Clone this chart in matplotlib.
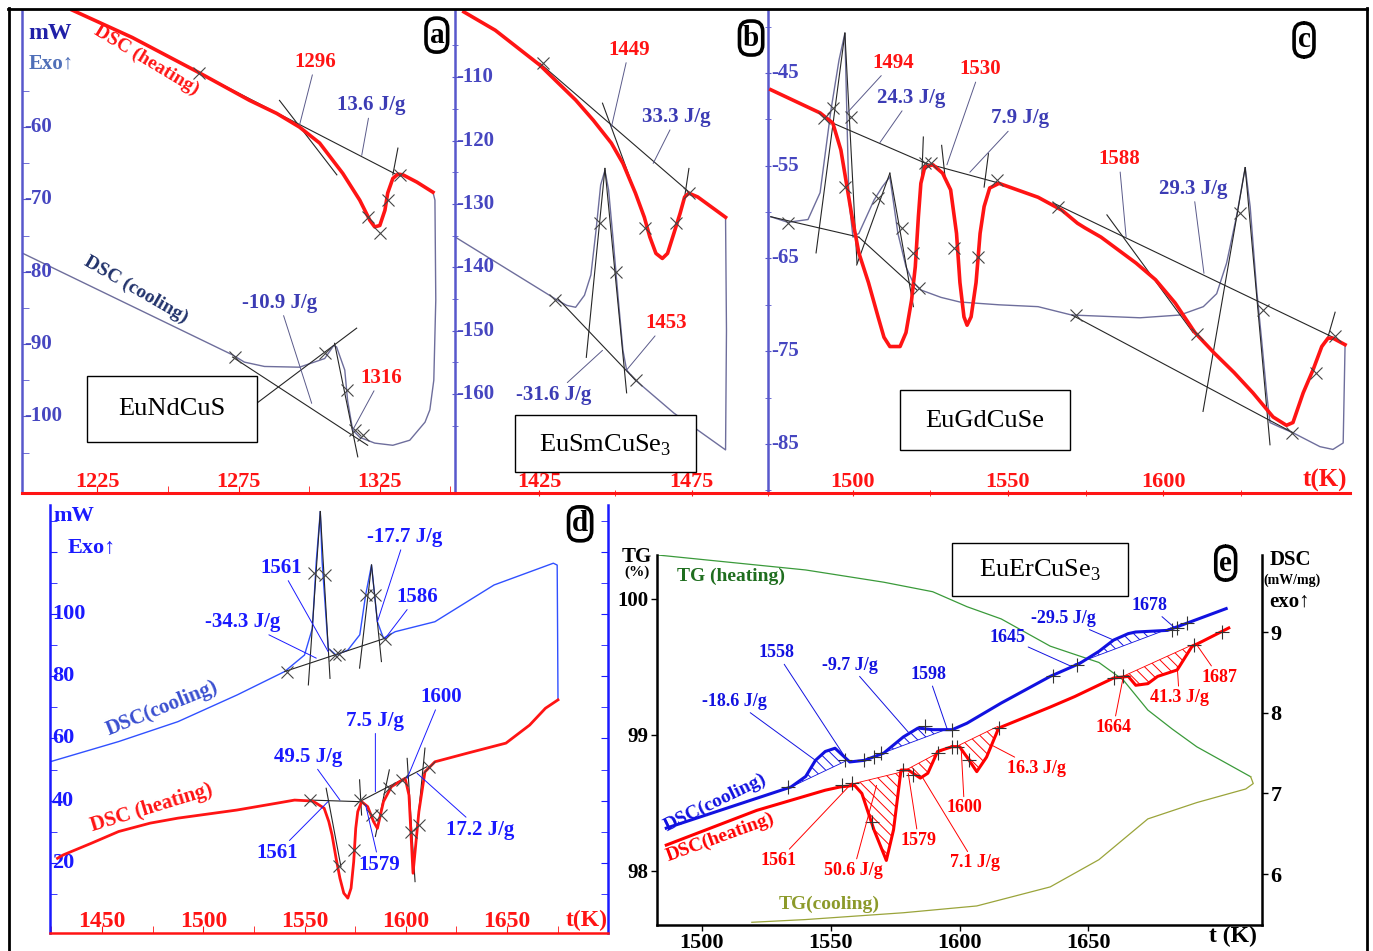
import numpy as np
import matplotlib
matplotlib.use("Agg")
import matplotlib.pyplot as plt
from matplotlib.lines import Line2D
from matplotlib.patches import Rectangle
import matplotlib.transforms as mtransforms

plt.rcParams['font.family'] = ['Liberation Serif', 'DejaVu Serif']
plt.rcParams['mathtext.fontset'] = 'custom'
plt.rcParams['mathtext.rm'] = 'Liberation Serif'
plt.rcParams['axes.unicode_minus'] = False
plt.rcParams['hatch.linewidth'] = 0.7

# ---------------- panel a : EuNdCuS ----------------
a_heat_T = [1216.1, 1237.4, 1261.2, 1278.9, 1288.5, 1296.6, 1303.7, 1311.9, 1317.9, 1321.5, 1323.2, 1325.0,
            1326.8, 1327.8, 1329.6, 1331.4, 1333.2, 1338.1, 1343.8]
a_heat_P = [-43.8, -47.6, -52.5, -56.3, -58.1, -60.0, -62.2, -66.4, -70.1, -72.9, -73.8, -73.6,
            -71.5, -69.1, -67.1, -66.5, -66.6, -67.6, -69.0]
a_cool_T = [1343.8, 1344.5, 1344.8, 1344.1, 1342.7, 1341.0, 1335.6, 1329.6, 1323.2, 1317.9, 1315.4, 1313.6,
            1312.6, 1309.7, 1308.7, 1305.5, 1296.6, 1284.2, 1277.1, 1272.9, 1198.4]
a_cool_P = [-69.0, -70.1, -83.9, -95.0, -99.1, -100.8, -103.3, -104.0, -103.7, -102.9, -101.9, -97.8,
            -93.6, -90.4, -90.2, -92.0, -93.2, -93.1, -92.5, -91.5, -77.4]
a_tangents = [(1261.2, -52.5, 1332.1, -66.8), (1289.5, -56.3, 1309.8, -66.6), (1331.4, -62.9, 1329.6, -66.6),
              (1272.9, -91.8, 1320.7, -104.0), (1309.0, -89.9, 1317.2, -105.6), (1281.4, -98.2, 1316.8, -87.8)]
a_marks_T = [1261.2, 1320.7, 1325.0, 1327.8, 1332.1, 1273.6, 1305.5, 1313.3, 1316.1, 1319.0]
a_marks_P = [-52.5, -72.4, -74.7, -70.1, -66.6, -91.8, -91.3, -96.4, -101.9, -102.6]
a_xticks = [1225, 1275, 1325]
a_yticks = [-60, -70, -80, -90, -100]
a_labels = [("1296", 1302.3, -51.0, 1296.6, -59.7, 'r'), ("13.6 J/g", 1321.8, -57.0, 1318.6, -63.9, 'b'),
            ("-10.9 J/g", 1289.5, -84.3, 1300.9, -98.2, 'b'), ("1316", 1325.4, -94.7, 1315.4, -101.9, 'r')]

# ---------------- panel b : EuSmCuSe3 ----------------
b_heat_T = [1400.4, 1410.7, 1425.3, 1437.0, 1442.8, 1448.7, 1452.5, 1456.6, 1459.5, 1461.3, 1463.3, 1465.4,
            1467.1, 1469.2, 1471.2, 1472.7, 1474.1, 1477.0, 1486.1]
b_heat_P = [-99.7, -102.6, -108.1, -113.6, -116.8, -120.4, -123.6, -128.3, -132.1, -135.2, -137.8, -138.6,
            -137.8, -134.6, -131.5, -128.9, -128.3, -128.9, -132.1]
b_cool_T = [1486.1, 1486.4, 1486.1, 1469.2, 1456.6, 1453.7, 1452.5, 1451.0, 1449.3, 1447.8, 1446.6, 1445.2,
            1443.7, 1442.0, 1439.9, 1437.0, 1434.1, 1431.1, 1397.5]
b_cool_P = [-132.1, -150.0, -168.8, -163.0, -157.8, -156.2, -153.1, -145.2, -135.7, -127.8, -124.7, -127.0,
            -134.1, -141.2, -144.4, -146.3, -146.0, -145.2, -135.2]
b_tangents = [(1425.3, -107.8, 1474.1, -128.1), (1445.8, -114.1, 1455.4, -126.7), (1474.1, -124.4, 1472.7, -128.9),
              (1431.1, -144.9, 1456.6, -157.8), (1440.5, -154.2, 1446.6, -124.4), (1446.6, -124.4, 1453.7, -159.8)]
b_marks_T = [1426.2, 1459.8, 1470.0, 1474.1, 1430.3, 1444.9, 1450.1, 1456.9]
b_marks_P = [-107.8, -133.8, -133.0, -128.3, -145.2, -133.0, -140.8, -157.8]
b_xticks = [1425, 1475]
b_yticks = [-110, -120, -130, -140, -150, -160]
b_labels = [("1449", 1454.5, -105.7, 1448.7, -117.9, 'r'), ("33.3 J/g", 1470.0, -116.3, 1462.4, -123.6, 'b'),
            ("1453", 1466.5, -148.8, 1453.7, -156.2, 'r'), ("-31.6 J/g", 1429.7, -160.2, 1445.8, -153.1, 'b')]

# ---------------- panel c : EuGdCuSe ----------------
c_heat_T = [1473.5, 1489.4, 1493.5, 1496.1, 1498.1, 1499.7, 1501.9, 1505.0, 1508.1, 1510.0, 1511.9, 1515.2,
            1517.1, 1518.9, 1520.1, 1521.1, 1521.9, 1523.2, 1525.8, 1528.9, 1531.5, 1533.4, 1534.5, 1535.8,
            1536.8, 1538.1, 1539.7, 1541.0, 1542.3, 1544.1, 1547.1, 1559.7, 1567.4, 1572.4, 1574.8, 1580.0,
            1591.3, 1597.6, 1603.9, 1610.3, 1616.5, 1622.9, 1629.0, 1635.5, 1639.8, 1641.9, 1645.2, 1648.4,
            1651.2, 1653.2, 1654.8, 1658.7]
c_heat_P = [-46.8, -49.3, -50.4, -53.3, -57.3, -60.5, -64.4, -67.6, -71.3, -73.5, -74.5, -74.5,
            -73.0, -69.5, -65.9, -60.5, -56.9, -55.1, -54.9, -55.8, -57.6, -62.3, -67.6, -71.3,
            -72.2, -71.3, -67.6, -62.3, -59.4, -57.4, -56.9, -58.4, -59.8, -61.2, -61.7, -62.7,
            -65.5, -67.3, -69.8, -73.0, -75.2, -77.3, -79.5, -82.1, -83.0, -82.7, -79.5, -77.0,
            -74.5, -73.6, -73.6, -74.3]
c_cool_T = [1658.7, 1658.1, 1654.8, 1650.6, 1641.9, 1637.7, 1634.5, 1633.4, 1631.8, 1630.2, 1628.1, 1626.5,
            1623.8, 1620.5, 1617.3, 1613.0, 1605.5, 1592.6, 1570.5, 1559.7, 1547.1, 1534.5, 1528.4, 1521.9,
            1519.4, 1517.1, 1514.5, 1511.9, 1509.4, 1506.8, 1501.9, 1500.0, 1498.7, 1497.4, 1495.5, 1492.9,
            1489.4, 1485.5, 1479.0, 1473.5]
c_cool_P = [-74.5, -84.9, -85.6, -85.3, -83.8, -83.2, -82.7, -79.5, -73.8, -68.4, -59.4, -55.2,
            -60.3, -65.5, -68.8, -70.2, -71.1, -71.4, -71.1, -70.2, -70.0, -69.7, -69.2, -68.4,
            -67.6, -65.9, -62.3, -56.2, -57.3, -58.7, -62.3, -62.7, -58.7, -40.7, -43.6, -49.0,
            -57.9, -60.8, -61.1, -60.5]
c_tangents = [(1493.5, -50.4, 1523.2, -54.7), (1523.2, -54.7, 1547.4, -56.9), (1564.5, -59.0, 1654.8, -73.5),
              (1488.1, -64.4, 1497.4, -40.7), (1497.4, -40.7, 1501.3, -65.5), (1522.7, -51.9, 1522.2, -56.2),
              (1528.6, -52.8, 1529.7, -56.2), (1543.7, -53.7, 1542.3, -57.3), (1501.2, -65.7, 1511.9, -55.8),
              (1511.9, -55.8, 1519.5, -70.2), (1473.5, -60.5, 1501.9, -62.7), (1501.9, -62.7, 1520.6, -68.4),
              (1581.9, -60.3, 1609.7, -73.0), (1612.9, -81.5, 1626.5, -55.2), (1626.5, -55.2, 1634.5, -85.1),
              (1570.6, -71.1, 1641.9, -83.8), (1655.5, -70.8, 1652.9, -73.8)]
c_marks_T = [1490.5, 1493.7, 1499.3, 1497.5, 1508.2, 1515.7, 1519.5, 1521.4, 1523.3, 1525.2, 1532.7, 1540.3,
             1546.6, 1566.1, 1571.8, 1610.8, 1624.7, 1632.3, 1641.7, 1649.3, 1655.6, 1479.2]
c_marks_P = [-49.9, -48.8, -49.7, -57.3, -58.5, -61.7, -64.4, -68.2, -54.7, -54.7, -63.9, -64.8,
             -56.5, -59.4, -71.1, -73.1, -60.1, -70.6, -83.8, -77.4, -73.4, -61.2]
c_xticks = [1500, 1550, 1600]
c_yticks = [-45, -55, -65, -75, -85]
c_labels = [("1494", 1512.9, -43.9, 1498.1, -49.3, 'r'), ("24.3 J/g", 1518.7, -47.7, 1508.7, -52.5, 'b'),
            ("1530", 1541.0, -44.6, 1530.3, -54.9, 'r'), ("7.9 J/g", 1553.9, -49.9, 1537.7, -55.7, 'b'),
            ("1588", 1585.8, -54.3, 1588.1, -62.7, 'r'), ("29.3 J/g", 1609.7, -57.5, 1613.2, -66.6, 'b')]

# ---------------- panel d ----------------
d_heat_T = [1428.0, 1430.9, 1444.6, 1458.2, 1473.8, 1487.5, 1516.6, 1536.3, 1545.1, 1553.9, 1555.8, 1559.7,
            1562.0, 1563.6, 1565.6, 1567.5, 1569.4, 1571.4, 1573.0, 1574.3, 1575.3, 1576.3, 1578.2, 1581.2,
            1584.1, 1586.0, 1589.0, 1592.9, 1599.7, 1601.6, 1603.6, 1606.5, 1609.5, 1614.4, 1630.0, 1649.5,
            1661.2, 1669.0, 1675.2]
d_heat_P = [21.5, 22.6, 26.3, 30.1, 32.8, 34.4, 37.0, 39.2, 40.2, 39.9, 39.2, 37.6,
            33.3, 29.0, 21.5, 15.1, 10.3, 8.7, 11.9, 20.4, 31.1, 36.5, 39.7, 38.1,
            33.3, 31.1, 39.7, 44.5, 47.2, 41.8, 16.7, 36.5, 49.3, 52.5, 55.2, 58.5,
            64.3, 69.7, 72.4]
d_cool_T = [1675.2, 1675.0, 1674.8, 1672.9, 1643.6, 1614.4, 1594.8, 1589.0, 1586.0, 1583.1, 1580.2, 1577.3,
            1571.4, 1565.6, 1561.7, 1558.7, 1557.8, 1555.8, 1553.9, 1550.0, 1540.2, 1516.8, 1487.5, 1458.2, 1424.3]
d_cool_P = [72.4, 95.0, 115.7, 116.3, 109.3, 97.5, 94.3, 92.2, 97.5, 115.7, 106.1, 93.3,
            88.4, 86.8, 89.0, 116.8, 132.9, 116.8, 95.4, 86.8, 81.5, 74.0, 65.4, 59.0, 52.5]
d_tangents = [(1540.2, 81.5, 1589.9, 92.2), (1551.9, 77.2, 1557.8, 132.9), (1557.8, 132.9, 1562.6, 79.3),
              (1577.2, 82.6, 1583.1, 115.7), (1583.1, 115.7, 1588.0, 84.7), (1552.9, 40.2, 1577.2, 39.7),
              (1577.2, 39.7, 1610.4, 50.9), (1560.7, 44.0, 1568.0, 18.8), (1577.2, 46.7, 1578.2, 35.4),
              (1591.9, 49.9, 1585.0, 28.5), (1600.7, 53.6, 1604.6, 14.0), (1609.5, 56.9, 1605.6, 31.1)]
d_marks_T = [1541.2, 1554.8, 1560.1, 1565.2, 1567.1, 1580.2, 1585.0, 1589.9,
             1552.9, 1567.1, 1574.3, 1577.6, 1583.1, 1588.0, 1591.9, 1598.3, 1602.6, 1606.5, 1611.4]
d_marks_P = [81.5, 113.1, 112.5, 86.8, 87.1, 106.1, 106.1, 92.0,
             40.2, 19.1, 24.2, 40.2, 35.4, 35.4, 44.0, 46.7, 30.1, 32.2, 50.9]
d_xticks = [1450, 1500, 1550, 1600, 1650]
d_yticks = [20, 40, 60, 80, 100]
d_labels = [("1561", 1538.4, 114.8, 1561.7, 87.9), ("-34.3 J/g", 1519.6, 97.4, 1555.8, 85.8),
            ("-17.7 J/g", 1599.6, 124.7, 1586.0, 97.5), ("1586", 1605.5, 105.5, 1589.9, 92.2),
            ("1600", 1617.3, 73.3, 1600.7, 47.2), ("7.5 J/g", 1585.0, 65.7, 1585.0, 42.9),
            ("49.5 J/g", 1551.9, 54.2, 1567.5, 40.2), ("1561", 1536.3, 23.1, 1561.6, 39.7),
            ("1579", 1587.0, 19.4, 1580.2, 38.6), ("17.2 J/g", 1636.8, 30.6, 1605.6, 48.8)]

# ---------------- panel e : EuErCuSe3 ----------------
e_cool_T = [1486.2, 1534.6, 1540.3, 1544.1, 1547.9, 1551.7, 1557.4, 1563.1, 1570.6, 1578.2, 1583.9, 1589.6,
            1597.2, 1602.9, 1616.2, 1635.2, 1646.6, 1654.1, 1659.8, 1665.5, 1668.4, 1680.7, 1688.3, 1703.5]
e_cool_D = [6.57, 7.08, 7.21, 7.41, 7.52, 7.56, 7.39, 7.41, 7.50, 7.70, 7.81, 7.79,
            7.79, 7.87, 8.12, 8.45, 8.61, 8.76, 8.90, 8.98, 9.00, 9.02, 9.11, 9.29]
e_heat_T = [1486.2, 1521.3, 1547.9, 1553.6, 1559.3, 1562.1, 1566.8, 1571.6, 1574.4, 1577.3, 1580.1, 1584.8,
            1587.7, 1591.5, 1597.2, 1600.0, 1602.9, 1606.7, 1610.5, 1615.2, 1635.2, 1644.7, 1659.8, 1665.5,
            1668.4, 1673.1, 1676.9, 1684.5, 1690.2, 1694.0, 1704.5]
e_heat_D = [6.36, 6.79, 7.04, 7.08, 7.10, 7.00, 6.55, 6.17, 6.55, 7.29, 7.29, 7.19,
            7.25, 7.52, 7.58, 7.58, 7.45, 7.27, 7.45, 7.81, 8.07, 8.20, 8.43, 8.45,
            8.34, 8.36, 8.45, 8.53, 8.82, 8.88, 9.05]
e_cool_base = [(1534.6, 7.08, 1556.4, 7.41), (1567.7, 7.47, 1595.4, 7.80), (1644.6, 8.60, 1682.0, 9.05)]
e_heat_base = [(1557.4, 7.11, 1578.0, 7.27), (1578.0, 7.27, 1597.4, 7.60), (1600.0, 7.60, 1614.8, 7.83),
               (1662.7, 8.44, 1691.7, 8.86)]
tg_heat_T = [1482.8, 1540.3, 1570.6, 1589.6, 1602.9, 1616.2, 1625.7, 1635.2, 1644.6, 1654.1, 1663.6, 1673.1,
             1682.6, 1692.1, 1705.4, 1713.0]
tg_heat_G = [100.32, 100.21, 100.12, 100.05, 99.94, 99.85, 99.75, 99.65, 99.59, 99.53, 99.40, 99.18,
             99.04, 98.91, 98.77, 98.69]
tg_cool_T = [1713.0, 1714.0, 1711.1, 1692.1, 1673.1, 1663.6, 1654.1, 1635.2, 1606.7, 1578.2, 1540.3, 1519.4]
tg_cool_G = [98.69, 98.64, 98.60, 98.50, 98.38, 98.23, 98.08, 97.88, 97.74, 97.69, 97.64, 97.62]
e_plus_T = [1533.6, 1555.5, 1563.1, 1566.8, 1569.7, 1586.8, 1597.2, 1636.1, 1645.6, 1682.6, 1684.5, 1688.3,
            1554.5, 1558.3, 1565.9, 1578.2, 1582.0, 1591.5, 1597.2, 1599.1, 1603.8, 1615.2, 1659.8, 1663.6,
            1691.2, 1701.7]
e_plus_D = [7.08, 7.41, 7.41, 7.45, 7.50, 7.83, 7.79, 8.45, 8.59, 9.02, 9.05, 9.11,
            7.10, 7.13, 6.65, 7.29, 7.23, 7.50, 7.58, 7.58, 7.41, 7.81, 8.43, 8.45,
            8.84, 9.00]
e_xticks = [1500, 1550, 1600, 1650]
tg_yticks = [98, 99, 100]
dsc_yticks = [6, 7, 8, 9]
e_labels = [("1558", 1529.1, 8.74, 1556.4, 7.41, 'b'), ("-18.6 J/g", 1512.8, 8.14, 1544.1, 7.41, 'b'),
            ("-9.7 J/g", 1557.4, 8.59, 1580.1, 7.76, 'b'), ("1598", 1588.0, 8.47, 1595.3, 7.79, 'b'),
            ("1645", 1618.6, 8.93, 1643.7, 8.57, 'b'), ("-29.5 J/g", 1640.3, 9.17, 1659.8, 8.90, 'b'),
            ("1678", 1673.6, 9.33, 1683.6, 9.05, 'b'),
            ("1561", 1529.8, 6.17, 1558.3, 7.13, 'r'), ("50.6 J/g", 1558.9, 6.05, 1567.8, 7.10, 'r'),
            ("1579", 1584.1, 6.42, 1580.1, 7.25, 'r'), ("7.1 J/g", 1605.8, 6.14, 1585.8, 7.19, 'r'),
            ("1600", 1601.9, 6.82, 1600.6, 7.58, 'r'), ("16.3 J/g", 1629.8, 7.31, 1612.4, 7.60, 'r'),
            ("1664", 1659.7, 7.82, 1663.6, 8.45, 'r'), ("41.3 J/g", 1685.3, 8.19, 1684.5, 8.57, 'r'),
            ("1687", 1700.8, 8.44, 1692.1, 8.84, 'r')]

# ---------------- styles ----------------
RED = '#ff1414'
TBLUE = '#3c3cb4'
AXBLUE = '#5858cc'
COOL = '#6e6e9c'
BLK = '#262626'
DBLUE = '#1a1aff'
EBLUE = '#1212e0'
ERED = '#ff0000'

W, H = 1373, 951
fig = plt.figure(figsize=(W / 100, H / 100), dpi=100)


def add_ax(x0, y0, x1, y1):
    return fig.add_axes([x0 / W, 1 - y1 / H, (x1 - x0) / W, (y1 - y0) / H])


def fig_line(x0, y0, x1, y1, color='black', lw=2.0):
    fig.add_artist(Line2D([x0 / W, x1 / W], [1 - y0 / H, 1 - y1 / H], transform=fig.transFigure,
                          color=color, lw=lw))


def spines(ax, visible, colors):
    for k, s in ax.spines.items():
        s.set_visible(k in visible)
        if k in colors:
            s.set_color(colors[k])
            s.set_linewidth(1.8)


def inside_labels(ax, xt, yt, xcol, ycol, size, xoff=0.005):
    bx = mtransforms.blended_transform_factory(ax.transData, ax.transAxes)
    by = mtransforms.blended_transform_factory(ax.transAxes, ax.transData)
    for t in xt:
        ax.text(t, 0.003, f"{t}", transform=bx, ha='center', va='bottom', color=xcol,
                fontsize=size + 1, fontweight='bold')
    for v in yt:
        ax.text(xoff, v, f"{v}", transform=by, ha='left', va='center', color=ycol,
                fontsize=size, fontweight='bold')


def tangents(ax, segs, lw=0.8):
    for t1, p1, t2, p2 in segs:
        ax.plot([t1, t2], [p1, p2], color=BLK, lw=lw, zorder=3)


def leaders(ax, items, cols, size, lcol=None):
    for lab, tx, ty, ex, ey, c in items:
        col = cols[c]
        ax.annotate(lab, xy=(ex, ey), xytext=(tx, ty), ha='center', va='center', color=col,
                    fontsize=size, fontweight='bold', zorder=6,
                    arrowprops=dict(arrowstyle='-', color=lcol or col, lw=0.7,
                                    shrinkA=0, shrinkB=0))


def panel_tag(ax, letter, fx, fy):
    ax.text(fx, fy, letter, transform=ax.transAxes, ha='center', va='center', fontsize=21,
            fontweight='bold', zorder=8,
            bbox=dict(boxstyle='round,pad=0.12,rounding_size=0.35', fc='white', ec='black', lw=2.6))


def name_box(ax, x0, y0, x1, y1, text, tx, ty, size=19):
    ax.add_patch(Rectangle((x0, y0), x1 - x0, y1 - y0, transform=ax.transAxes, fc='white',
                           ec='black', lw=1.0, zorder=7, clip_on=False))
    ax.text(tx, ty, text, transform=ax.transAxes, ha='center', va='center', fontsize=size,
            zorder=8, color='black')


# outer frame
fig_line(8, 9, 1367, 9)
fig_line(9, 8, 9, 951)
fig_line(1367, 8, 1367, 951)

# ---------------- top row ----------------
top = [
    (add_ax(22, 10, 455, 493), (1198.4, 1351.6), (-110.6, -43.8), a_heat_T, a_heat_P, a_cool_T, a_cool_P,
     a_tangents, a_marks_T, a_marks_P, a_xticks, a_yticks, a_labels, 'in'),
    (add_ax(455, 10, 768, 493), (1397.5, 1489.0), (-175.6, -99.4), b_heat_T, b_heat_P, b_cool_T, b_cool_P,
     b_tangents, b_marks_T, b_marks_P, b_xticks, b_yticks, b_labels, 'inout'),
    (add_ax(768, 10, 1350, 493), (1472.6, 1660.3), (-90.3, -38.2), c_heat_T, c_heat_P, c_cool_T, c_cool_P,
     c_tangents, c_marks_T, c_marks_P, c_xticks, c_yticks, c_labels, 'inout'),
]
for (ax, xl, yl, hT, hP, cT, cP, tg, mT, mP, xt, yt, labs, tdir) in top:
    ax.set_xlim(*xl)
    ax.set_ylim(*yl)
    ax.patch.set_alpha(0)
    spines(ax, ['left', 'bottom'], {'left': AXBLUE, 'bottom': RED})
    ax.spines['bottom'].set_linewidth(2.2)
    ax.plot(cT, cP, color=COOL, lw=1.0, zorder=2)
    tangents(ax, tg)
    ax.plot(hT, hP, color=RED, lw=2.6, zorder=4, solid_joinstyle='round')
    ax.plot(mT, mP, ls='none', marker='x', ms=9, mew=0.8, color='#444444', zorder=5)
    ax.set_xticks(xt)
    ax.set_xticks([t + 25 for t in xt], minor=True)
    step = yt[0] - yt[1]
    ax.set_yticks(yt)
    ax.set_yticks([v - step / 2 for v in yt] + [yt[0] + step / 2], minor=True)
    ax.tick_params(which='both', labelbottom=False, labelleft=False, direction=tdir, length=5)
    ax.tick_params(axis='x', which='both', color=RED)
    ax.tick_params(axis='y', which='both', color=AXBLUE)
    inside_labels(ax, xt, yt, RED, '#4646c0', 15)
    leaders(ax, labs, {'r': RED, 'b': TBLUE}, 15, lcol='#5a5a8a')

ax_a, ax_b, ax_c = top[0][0], top[1][0], top[2][0]
ax_a.text(0.015, 0.952, "mW", transform=ax_a.transAxes, ha='left', va='center', fontsize=17,
          fontweight='bold', color='#2020a8')
ax_a.text(0.015, 0.890, "Exo↑", transform=ax_a.transAxes, ha='left', va='center', fontsize=15,
          fontweight='bold', color='#4f6fb8')
ax_a.text(1242.4, -50.7, "DSC (heating)", rotation=-31, rotation_mode='anchor', ha='center',
          va='center', color=RED, fontsize=14, fontweight='bold')
ax_a.text(1238.8, -82.5, "DSC (cooling)", rotation=-30, rotation_mode='anchor', ha='center',
          va='center', color='#22336b', fontsize=14, fontweight='bold')
name_box(ax_a, 0.150, 0.106, 0.543, 0.242, "EuNdCuS", 0.346, 0.174)
name_box(ax_b, 0.192, 0.043, 0.770, 0.161, "EuSmCuSe$_\\mathrm{3}$", 0.479, 0.099)
name_box(ax_c, 0.227, 0.089, 0.519, 0.213, "EuGdCuSe", 0.373, 0.149)
panel_tag(ax_a, 'a', 0.958, 0.948)
panel_tag(ax_b, 'b', 0.946, 0.942)
panel_tag(ax_c, 'c', 0.921, 0.938)
ax_c.text(0.957, 0.003, "t(K)", transform=ax_c.transAxes, ha='center', va='bottom', fontsize=18,
          fontweight='bold', color=RED)

# ---------------- panel d ----------------
ax_d = add_ax(50, 505, 608, 933)
ax_d.set_xlim(1424.3, 1699.9)
ax_d.set_ylim(-2.5, 135.0)
spines(ax_d, ['left', 'bottom', 'right'], {'left': DBLUE, 'right': DBLUE, 'bottom': RED})
ax_d.plot(d_cool_T, d_cool_P, color='#3050ff', lw=1.0, zorder=2)
tangents(ax_d, d_tangents)
ax_d.plot(d_heat_T, d_heat_P, color=RED, lw=2.0, zorder=4, solid_joinstyle='round')
ax_d.plot(d_marks_T, d_marks_P, ls='none', marker='x', ms=9, mew=0.8, color='#444444', zorder=5)
ax_d.set_xticks(d_xticks)
ax_d.set_xticks([t + 25 for t in d_xticks] + [d_xticks[0] - 25], minor=True)
ax_d.set_yticks(d_yticks + [120])
ax_d.set_yticks([v + 10 for v in [0] + d_yticks + [120]], minor=True)
ax_d.tick_params(which='both', labelbottom=False, labelleft=False, direction='in', length=5,
                 right=True)
ax_d.tick_params(axis='x', which='both', color=RED)
ax_d.tick_params(axis='y', which='both', color=DBLUE)
inside_labels(ax_d, d_xticks, d_yticks, RED, DBLUE, 16, xoff=0.004)
leaders(ax_d, [l + ('b',) for l in d_labels], {'b': DBLUE}, 15)
ax_d.text(0.006, 0.974, "mW", transform=ax_d.transAxes, ha='left', va='center', fontsize=16,
          fontweight='bold', color=DBLUE)
ax_d.text(0.032, 0.900, "Exo↑", transform=ax_d.transAxes, ha='left', va='center', fontsize=16,
          fontweight='bold', color=DBLUE)
ax_d.text(1479.6, 69.8, "DSC(cooling)", rotation=22, rotation_mode='anchor', ha='center',
          va='center', color='#3a4fd0', fontsize=15, fontweight='bold')
ax_d.text(1474.7, 37.7, "DSC (heating)", rotation=17, rotation_mode='anchor', ha='center',
          va='center', color=RED, fontsize=15, fontweight='bold')
panel_tag(ax_d, 'd', 0.950, 0.956)
ax_d.text(0.962, 0.005, "t(K)", transform=ax_d.transAxes, ha='center', va='bottom', fontsize=17,
          fontweight='bold', color=RED)

# ---------------- panel e ----------------
ax_e = add_ax(657, 555, 1262, 925)
ax_e.set_xlim(1482.6, 1717.4)
ax_e.set_ylim(97.60, 100.32)
spines(ax_e, ['left', 'bottom'], {'left': 'black', 'bottom': 'black'})
ax_e2 = ax_e.twinx()
ax_e2.set_ylim(5.37, 9.954)
spines(ax_e2, ['right'], {'right': 'black'})
ax_e.plot(tg_heat_T, tg_heat_G, color='#3a9a3a', lw=0.9)
ax_e.plot(tg_cool_T, tg_cool_G, color='#9aa43a', lw=0.9)

for t1, d1, t2, d2 in e_cool_base:
    tt = np.linspace(t1, t2, 80)
    ax_e2.fill_between(tt, np.interp(tt, [t1, t2], [d1, d2]), np.interp(tt, e_cool_T, e_cool_D),
                       facecolor='none', edgecolor=EBLUE, hatch='\\\\\\', lw=0)
    ax_e2.plot([t1, t2], [d1, d2], color=EBLUE, lw=0.6)
for t1, d1, t2, d2 in e_heat_base:
    tt = np.linspace(t1, t2, 80)
    ax_e2.fill_between(tt, np.interp(tt, [t1, t2], [d1, d2]), np.interp(tt, e_heat_T, e_heat_D),
                       facecolor='none', edgecolor=ERED, hatch='\\\\\\', lw=0)
    ax_e2.plot([t1, t2], [d1, d2], color=ERED, lw=0.6)
ax_e2.plot(e_cool_T, e_cool_D, color=EBLUE, lw=2.2, zorder=4, solid_joinstyle='round')
ax_e2.plot(e_heat_T, e_heat_D, color=ERED, lw=2.2, zorder=4, solid_joinstyle='round')
ax_e2.plot(e_plus_T, e_plus_D, ls='none', marker='+', ms=10, mew=0.8, color='#333333', zorder=5)
leaders(ax_e2, e_labels, {'r': ERED, 'b': EBLUE}, 13)

ax_e.set_xticks(e_xticks)
ax_e.set_xticklabels([str(t) for t in e_xticks], fontsize=16, fontweight='bold')
ax_e.set_yticks(tg_yticks)
ax_e.set_yticklabels([str(v) for v in tg_yticks], fontsize=15, fontweight='bold')
ax_e2.set_yticks(dsc_yticks)
ax_e2.set_yticklabels([str(v) for v in dsc_yticks], fontsize=16, fontweight='bold')
ax_e.tick_params(length=4, width=1, pad=2)
ax_e2.tick_params(length=4, width=1, pad=2)

ax_e.text(0.033, 0.941, "TG (heating)", transform=ax_e.transAxes, ha='left', va='center',
          fontsize=14, fontweight='bold', color='#1f6e1f')
ax_e.text(0.284, 0.057, "TG(cooling)", transform=ax_e.transAxes, ha='center', va='center',
          fontsize=14, fontweight='bold', color='#8c9a2a')
ax_e2.text(1505.0, 6.88, "DSC(cooling)", rotation=26, rotation_mode='anchor', ha='center',
           va='center', color=EBLUE, fontsize=14, fontweight='bold')
ax_e2.text(1507.0, 6.45, "DSC(heating)", rotation=20, rotation_mode='anchor', ha='center',
           va='center', color=ERED, fontsize=14, fontweight='bold')
ax_e.text(-0.033, 0.995, "TG", transform=ax_e.transAxes, ha='center', va='center', fontsize=15,
          fontweight='bold')
ax_e.text(-0.033, 0.954, "(%)", transform=ax_e.transAxes, ha='center', va='center', fontsize=11,
          fontweight='bold')
ax_e.text(1.012, 0.986, "DSC", transform=ax_e.transAxes, ha='left', va='center', fontsize=15,
          fontweight='bold')
ax_e.text(1.003, 0.932, "(mW/mg)", transform=ax_e.transAxes, ha='left', va='center', fontsize=10,
          fontweight='bold')
ax_e.text(1.012, 0.873, "exo↑", transform=ax_e.transAxes, ha='left', va='center', fontsize=15,
          fontweight='bold')
name_box(ax_e, 0.488, 0.889, 0.779, 1.032, "EuErCuSe$_\\mathrm{3}$", 0.633, 0.959)
panel_tag(ax_e, 'e', 0.940, 0.978)
ax_e.text(0.952, -0.032, "t (K)", transform=ax_e.transAxes, ha='center', va='center', fontsize=17,
          fontweight='bold')

fig.savefig("out.png", dpi=100)
